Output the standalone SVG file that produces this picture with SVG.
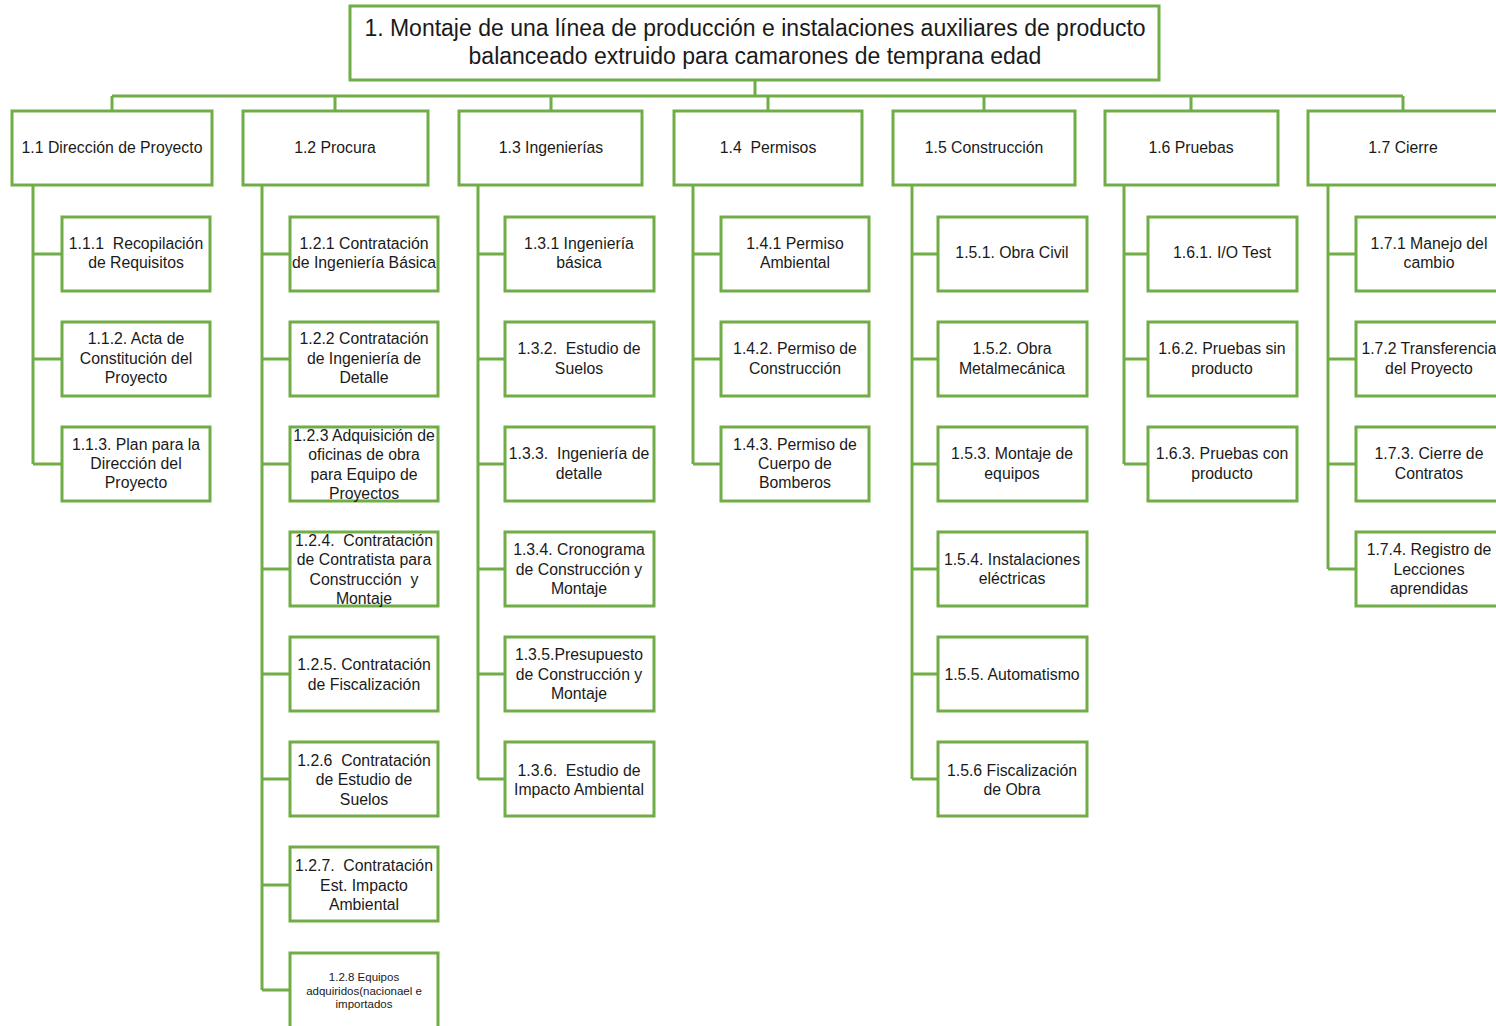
<svg xmlns="http://www.w3.org/2000/svg" width="1496" height="1026" viewBox="0 0 1496 1026">
<style>
.b{fill:#fff;stroke:#70AD47;stroke-width:3}
.c{fill:none;stroke:#70AD47;stroke-width:3}
text{font-family:"Liberation Sans",Arial,sans-serif;font-size:15.8px;fill:#1a1a1a;text-anchor:middle;white-space:pre}
.r{font-size:23px}
.s{font-size:11.5px}
</style>
<rect width="1496" height="1026" fill="#fff"/>
<g id="connectors">
<path class="c" d="M755 80V96M112 96H1403M112 96V111M335 96V111M551 96V111M768 96V111M984 96V111M1191 96V111M1403 96V111"/>
<path class="c" d="M33 185V464M33 254H62M33 359H62M33 464H62"/>
<path class="c" d="M262 185V990M262 254H290M262 359H290M262 464H290M262 569H290M262 674H290M262 779H290M262 885H290M262 990H290"/>
<path class="c" d="M478 185V779M478 254H505M478 359H505M478 464H505M478 569H505M478 674H505M478 779H505"/>
<path class="c" d="M693 185V464M693 254H721M693 359H721M693 464H721"/>
<path class="c" d="M912 185V779M912 254H938M912 359H938M912 464H938M912 569H938M912 674H938M912 779H938"/>
<path class="c" d="M1124 185V464M1124 254H1148M1124 359H1148M1124 464H1148"/>
<path class="c" d="M1328 185V569M1328 254H1356M1328 359H1356M1328 464H1356M1328 569H1356"/>
</g>
<g id="n1"><rect class="b" x="350" y="6" width="809" height="74"/><text class="r"><tspan x="755" y="36">1. Montaje de una línea de producción e instalaciones auxiliares de producto</tspan><tspan x="755" y="64">balanceado extruido para camarones de temprana edad</tspan></text></g>

<g id="n1_1"><rect class="b" x="12" y="111" width="200" height="74"/><text x="112" y="153">1.1 Dirección de Proyecto</text></g>
<g id="n1_2"><rect class="b" x="243" y="111" width="185" height="74"/><text x="335" y="153">1.2 Procura</text></g>
<g id="n1_3"><rect class="b" x="459" y="111" width="183" height="74"/><text x="551" y="153">1.3 Ingenierías</text></g>
<g id="n1_4"><rect class="b" x="674" y="111" width="188" height="74"/><text x="768" y="153">1.4  Permisos</text></g>
<g id="n1_5"><rect class="b" x="893" y="111" width="182" height="74"/><text x="984" y="153">1.5 Construcción</text></g>
<g id="n1_6"><rect class="b" x="1105" y="111" width="173" height="74"/><text x="1191" y="153">1.6 Pruebas</text></g>
<g id="n1_7"><rect class="b" x="1308" y="111" width="200" height="74"/><text x="1403" y="153">1.7 Cierre</text></g>

<g id="n1_1_1"><rect class="b" x="62" y="217" width="148" height="74"/><text><tspan x="136" y="249">1.1.1  Recopilación</tspan><tspan x="136" y="268">de Requisitos</tspan></text></g>
<g id="n1_1_2"><rect class="b" x="62" y="322" width="148" height="74"/><text><tspan x="136" y="344">1.1.2. Acta de</tspan><tspan x="136" y="364">Constitución del</tspan><tspan x="136" y="383">Proyecto</tspan></text></g>
<g id="n1_1_3"><rect class="b" x="62" y="427" width="148" height="74"/><text><tspan x="136" y="450">1.1.3. Plan para la</tspan><tspan x="136" y="469">Dirección del</tspan><tspan x="136" y="488">Proyecto</tspan></text></g>

<g id="n1_2_1"><rect class="b" x="290" y="217" width="148" height="74"/><text><tspan x="364" y="249">1.2.1 Contratación</tspan><tspan x="364" y="268">de Ingeniería Básica</tspan></text></g>
<g id="n1_2_2"><rect class="b" x="290" y="322" width="148" height="74"/><text><tspan x="364" y="344">1.2.2 Contratación</tspan><tspan x="364" y="364">de Ingeniería de</tspan><tspan x="364" y="383">Detalle</tspan></text></g>
<g id="n1_2_3"><rect class="b" x="290" y="427" width="148" height="74"/><text><tspan x="364" y="441">1.2.3 Adquisición de</tspan><tspan x="364" y="460">oficinas de obra</tspan><tspan x="364" y="480">para Equipo de</tspan><tspan x="364" y="499">Proyectos</tspan></text></g>
<g id="n1_2_4"><rect class="b" x="290" y="532" width="148" height="74"/><text><tspan x="364" y="546">1.2.4.  Contratación</tspan><tspan x="364" y="565">de Contratista para</tspan><tspan x="364" y="585">Construcción  y</tspan><tspan x="364" y="604">Montaje</tspan></text></g>
<g id="n1_2_5"><rect class="b" x="290" y="637" width="148" height="74"/><text><tspan x="364" y="670">1.2.5. Contratación</tspan><tspan x="364" y="690">de Fiscalización</tspan></text></g>
<g id="n1_2_6"><rect class="b" x="290" y="742" width="148" height="74"/><text><tspan x="364" y="766">1.2.6  Contratación</tspan><tspan x="364" y="785">de Estudio de</tspan><tspan x="364" y="805">Suelos</tspan></text></g>
<g id="n1_2_7"><rect class="b" x="290" y="847" width="148" height="74"/><text><tspan x="364" y="871">1.2.7.  Contratación</tspan><tspan x="364" y="891">Est. Impacto</tspan><tspan x="364" y="910">Ambiental</tspan></text></g>
<g id="n1_2_8"><rect class="b" x="290" y="953" width="148" height="80"/><text class="s"><tspan x="364" y="981">1.2.8 Equipos</tspan><tspan x="364" y="995">adquiridos(nacionael e</tspan><tspan x="364" y="1008">importados</tspan></text></g>

<g id="n1_3_1"><rect class="b" x="505" y="217" width="149" height="74"/><text><tspan x="579" y="249">1.3.1 Ingeniería</tspan><tspan x="579" y="268">básica</tspan></text></g>
<g id="n1_3_2"><rect class="b" x="505" y="322" width="149" height="74"/><text><tspan x="579" y="354">1.3.2.  Estudio de</tspan><tspan x="579" y="374">Suelos</tspan></text></g>
<g id="n1_3_3"><rect class="b" x="505" y="427" width="149" height="74"/><text><tspan x="579" y="459">1.3.3.  Ingeniería de</tspan><tspan x="579" y="479">detalle</tspan></text></g>
<g id="n1_3_4"><rect class="b" x="505" y="532" width="149" height="74"/><text><tspan x="579" y="555">1.3.4. Cronograma</tspan><tspan x="579" y="575">de Construcción y</tspan><tspan x="579" y="594">Montaje</tspan></text></g>
<g id="n1_3_5"><rect class="b" x="505" y="637" width="149" height="74"/><text><tspan x="579" y="660">1.3.5.Presupuesto</tspan><tspan x="579" y="680">de Construcción y</tspan><tspan x="579" y="699">Montaje</tspan></text></g>
<g id="n1_3_6"><rect class="b" x="505" y="742" width="149" height="74"/><text><tspan x="579" y="776">1.3.6.  Estudio de</tspan><tspan x="579" y="795">Impacto Ambiental</tspan></text></g>

<g id="n1_4_1"><rect class="b" x="721" y="217" width="148" height="74"/><text><tspan x="795" y="249">1.4.1 Permiso</tspan><tspan x="795" y="268">Ambiental</tspan></text></g>
<g id="n1_4_2"><rect class="b" x="721" y="322" width="148" height="74"/><text><tspan x="795" y="354">1.4.2. Permiso de</tspan><tspan x="795" y="374">Construcción</tspan></text></g>
<g id="n1_4_3"><rect class="b" x="721" y="427" width="148" height="74"/><text><tspan x="795" y="450">1.4.3. Permiso de</tspan><tspan x="795" y="469">Cuerpo de</tspan><tspan x="795" y="488">Bomberos</tspan></text></g>

<g id="n1_5_1"><rect class="b" x="938" y="217" width="149" height="74"/><text x="1012" y="258">1.5.1. Obra Civil</text></g>
<g id="n1_5_2"><rect class="b" x="938" y="322" width="149" height="74"/><text><tspan x="1012" y="354">1.5.2. Obra</tspan><tspan x="1012" y="374">Metalmecánica</tspan></text></g>
<g id="n1_5_3"><rect class="b" x="938" y="427" width="149" height="74"/><text><tspan x="1012" y="459">1.5.3. Montaje de</tspan><tspan x="1012" y="479">equipos</tspan></text></g>
<g id="n1_5_4"><rect class="b" x="938" y="532" width="149" height="74"/><text><tspan x="1012" y="565">1.5.4. Instalaciones</tspan><tspan x="1012" y="584">eléctricas</tspan></text></g>
<g id="n1_5_5"><rect class="b" x="938" y="637" width="149" height="74"/><text x="1012" y="680">1.5.5. Automatismo</text></g>
<g id="n1_5_6"><rect class="b" x="938" y="742" width="149" height="74"/><text><tspan x="1012" y="776">1.5.6 Fiscalización</tspan><tspan x="1012" y="795">de Obra</tspan></text></g>

<g id="n1_6_1"><rect class="b" x="1148" y="217" width="149" height="74"/><text x="1222" y="258">1.6.1. I/O Test</text></g>
<g id="n1_6_2"><rect class="b" x="1148" y="322" width="149" height="74"/><text><tspan x="1222" y="354">1.6.2. Pruebas sin</tspan><tspan x="1222" y="374">producto</tspan></text></g>
<g id="n1_6_3"><rect class="b" x="1148" y="427" width="149" height="74"/><text><tspan x="1222" y="459">1.6.3. Pruebas con</tspan><tspan x="1222" y="479">producto</tspan></text></g>

<g id="n1_7_1"><rect class="b" x="1356" y="217" width="150" height="74"/><text><tspan x="1429" y="249">1.7.1 Manejo del</tspan><tspan x="1429" y="268">cambio</tspan></text></g>
<g id="n1_7_2"><rect class="b" x="1356" y="322" width="150" height="74"/><text><tspan x="1429" y="354">1.7.2 Transferencia</tspan><tspan x="1429" y="374">del Proyecto</tspan></text></g>
<g id="n1_7_3"><rect class="b" x="1356" y="427" width="150" height="74"/><text><tspan x="1429" y="459">1.7.3. Cierre de</tspan><tspan x="1429" y="479">Contratos</tspan></text></g>
<g id="n1_7_4"><rect class="b" x="1356" y="532" width="150" height="74"/><text><tspan x="1429" y="555">1.7.4. Registro de</tspan><tspan x="1429" y="575">Lecciones</tspan><tspan x="1429" y="594">aprendidas</tspan></text></g>
</svg>
